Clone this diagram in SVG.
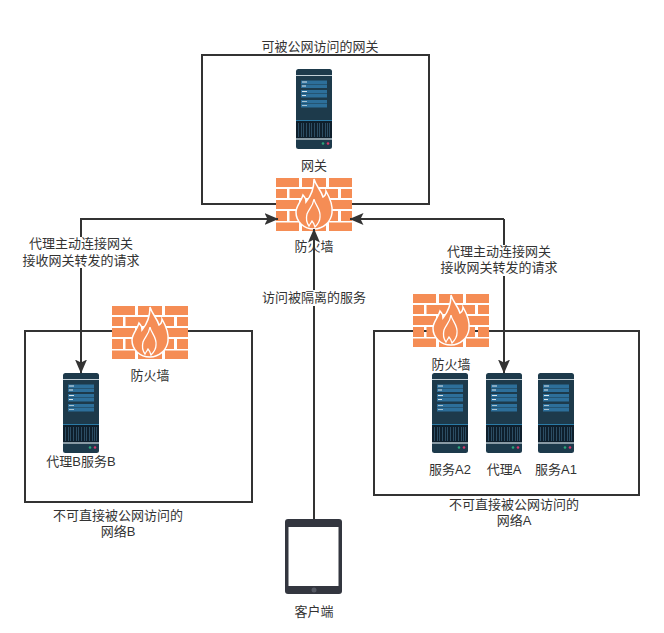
<svg xmlns="http://www.w3.org/2000/svg" width="664" height="633" viewBox="0 0 664 633">
<style>
text{font-family:"Liberation Sans","Noto Sans CJK SC",sans-serif;font-size:13px;fill:#333;text-anchor:middle}
.box{fill:none;stroke:#333;stroke-width:2}
.line{fill:none;stroke:#333;stroke-width:2}
.brick{fill:#f58d55}
.lbl{fill:#fff}
</style>
<defs>
<marker id="arrow" viewBox="0 0 14 12" refX="13.500" refY="6" markerWidth="14" markerHeight="12" markerUnits="userSpaceOnUse" orient="auto"><path d="M0 0L14 6L0 12L3 6Z" fill="#333"/></marker>
<g id="server">
<rect width="36" height="80" rx="2.500" fill="#1d3a4b"/>
<rect x="0" y="6" width="36" height="1" fill="#c3cfd6"/>
<rect x="5" y="11.500" width="26" height="3.500" fill="#2d6f9a"/><rect x="5" y="15.500" width="26" height="3.500" fill="#2d6f9a"/>
<rect x="5" y="21" width="26" height="3.500" fill="#2d6f9a"/><rect x="5" y="25" width="26" height="3.500" fill="#2d6f9a"/>
<rect x="5" y="31" width="26" height="3.500" fill="#2d6f9a"/><rect x="5" y="35" width="26" height="3.500" fill="#2d6f9a"/>
<rect x="6" y="12.500" width="5" height="1" fill="#dbe6ec"/><rect x="6" y="16.500" width="4" height="1" fill="#dbe6ec"/>
<rect x="6" y="22" width="5" height="1" fill="#dbe6ec"/><rect x="6" y="26" width="4" height="1" fill="#dbe6ec"/>
<rect x="6" y="32" width="5" height="1" fill="#a9c3d2"/><rect x="6" y="36" width="5" height="1" fill="#a9c3d2"/>
<rect x="0" y="51" width="36" height="1" fill="#2b7ba6"/>
<rect x="0" y="52" width="36" height="17" fill="#0e1f2c"/>
<path d="M2.500 54v14M5.500 54v14M7.500 54v14M10.500 54v14M13.500 54v14M15.500 54v14M18.500 54v14M21.500 54v14M23.500 54v14M26.500 54v14M29.500 54v14M31.500 54v14M33.500 54v14" stroke="#2c4d63" stroke-width="1"/>
<rect x="0" y="69" width="36" height="2" fill="#8a9ba5"/>
<circle cx="27" cy="74.500" r="1.300" fill="#2aa67a"/><circle cx="32" cy="74.500" r="1.300" fill="#d6386b"/>
</g>
<g id="firewall">
<path class="brick" d="M0 0H23V9H0ZM26 0H50V9H26ZM53 0H76V9H53ZM0 11H11V20H0ZM13.500 11H36V20H13.500ZM39 11H62V20H39ZM65 11H76V20H65ZM0 22H23V31H0ZM26 22H50V31H26ZM53 22H76V31H53ZM0 33H11V43H0ZM13.500 33H36V43H13.500ZM39 33H62V43H39ZM65 33H76V43H65ZM0 44.500H23V53H0ZM26 44.500H50V53H26ZM53 44.500H76V53H53Z"/>
<path class="brick" stroke="#fff" stroke-width="1.500" d="M38 1C40 8 45 12 47 19C49 18 50 16 50 13C54 20 57 27 56 35C55 44 47 51 38 51C28 51 20 44 20 34C20 28 25 24 27 17C29 19 30 21 30 24C35 18 38 10 38 1Z"/>
<path fill="none" stroke="#fff" stroke-width="1.300" d="M38 21C39 27 45 31 44 39C44 43 42 46 39 49C38 46 37 44 36 43C35 45 34 46 33 48C30 44 30 40 31 36C33 31 37 28 38 21Z"/>
</g>
</defs>
<g id="zone-gateway"><rect class="box" x="202" y="55" width="227" height="149"/><rect class="lbl" x="258" y="40" width="122" height="14"/><text x="320" y="51">可被公网访问的网关</text></g>
<g id="zone-b"><rect class="box" x="25" y="331" width="227" height="171"/><text x="118" y="520">不可直接被公网访问的</text><text x="118" y="536">网络B</text></g>
<g id="zone-a"><rect class="box" x="374" y="331" width="265" height="164"/><text x="514" y="509">不可直接被公网访问的</text><text x="514" y="525">网络A</text></g>
<g id="gateway"><use href="#server" x="296" y="69"/><text x="314" y="170">网关</text></g>
<g id="firewall-top"><use href="#firewall" x="276" y="178"/><text x="314" y="251">防火墙</text></g>
<g id="firewall-b"><use href="#firewall" x="112" y="306"/><text x="150" y="380">防火墙</text></g>
<g id="firewall-a"><use href="#firewall" x="413" y="294"/><text x="451" y="369">防火墙</text></g>
<g id="proxy-b"><use href="#server" x="63" y="373"/><text x="81" y="466">代理B服务B</text></g>
<g id="service-a2"><use href="#server" x="432" y="373"/><text x="450" y="474">服务A2</text></g>
<g id="proxy-a"><use href="#server" x="486" y="373"/><text x="504" y="474">代理A</text></g>
<g id="service-a1"><use href="#server" x="538" y="373"/><text x="556" y="474">服务A1</text></g>
<g id="client">
<rect x="285" y="519" width="57" height="75" rx="3" fill="#33363f"/>
<rect x="288.500" y="527" width="50" height="59" fill="#fff"/>
<circle cx="314" cy="590" r="2.500" fill="#555963"/>
<text x="314" y="616">客户端</text>
</g>
<g id="connectors">
<path class="line" d="M81 373V219H278" marker-end="url(#arrow)"/>
<path class="line" d="M81 219V373" marker-end="url(#arrow)"/>
<path class="line" d="M504 219H350" marker-end="url(#arrow)"/>
<path class="line" d="M504 219V373" marker-end="url(#arrow)"/>
<path class="line" d="M314 519V229" marker-end="url(#arrow)"/>
</g>
<g id="labels">
<rect class="lbl" x="22" y="237" width="118" height="31"/>
<text x="81" y="248">代理主动连接网关</text><text x="81" y="265">接收网关转发的请求</text>
<rect class="lbl" x="440" y="245" width="118" height="31"/>
<text x="499" y="256">代理主动连接网关</text><text x="499" y="272">接收网关转发的请求</text>
<rect class="lbl" x="260" y="290" width="108" height="16"/>
<text x="314" y="302">访问被隔离的服务</text>
</g>
</svg>
